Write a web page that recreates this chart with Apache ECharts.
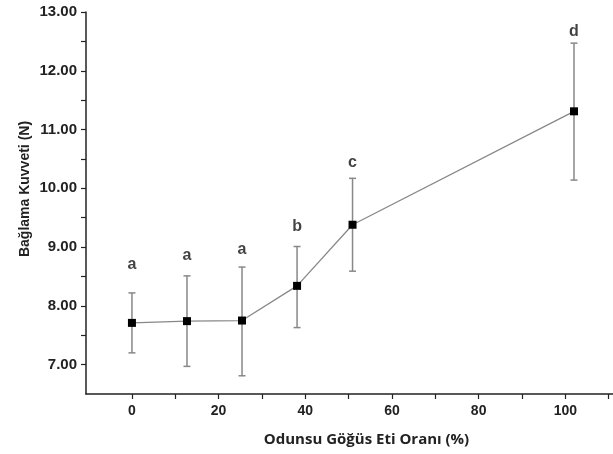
<!DOCTYPE html>
<html>
<head>
<meta charset="utf-8">
<script src="https://cdn.jsdelivr.net/npm/echarts@6/dist/echarts.min.js"></script>
<style>
  html, body { margin: 0; padding: 0; background: #fff; }
  #chart { width: 613px; height: 454px; }
</style>
</head>
<body>
<div id="chart"></div>
<script>
// odunsu göğüs eti oranı (%) as placed in the figure
const ratio = [0, 12.7, 25.4, 38.1, 50.9, 102]
const meanForce = [7.71, 7.74, 7.75, 8.34, 9.38, 11.31]
const upperForce = [8.22, 8.51, 8.66, 9.01, 10.17, 12.47]
const lowerForce = [7.20, 6.97, 6.81, 7.63, 8.59, 10.14]
const groupLetters = ['a', 'a', 'a', 'b', 'c', 'd']
const letterY = [8.71, 8.86, 8.95, 9.35, 10.43, 12.66]

const xLabelValues = [0, 20, 40, 60, 80, 100]
const xTickValues = [0, 10, 20, 30, 40, 50, 60, 70, 80, 90, 100, 110]
const yLabelValues = [7, 8, 9, 10, 11, 12, 13]
const yTickValues = [7, 7.5, 8, 8.5, 9, 9.5, 10, 10.5, 11, 11.5, 12, 12.5, 13]

const meanData = ratio.map((x, i) => [x, meanForce[i]])
const errData = ratio.map((x, i) => [x, lowerForce[i], upperForce[i]])
const letterData = ratio.map((x, i) => [x, letterY[i], groupLetters[i]])

const chart = echarts.init(document.getElementById('chart'))

const axisColor = '#222'
const font = 'Arial, "Liberation Sans", sans-serif'

chart.setOption({
  animation: false,
  backgroundColor: '#fff',
  grid: { left: 86, right: 0, top: 12, bottom: 60, outerBoundsMode: 'none' },
  xAxis: {
    type: 'value',
    min: -10.6,
    max: 111,
    name: 'Odunsu Göğüs Eti Oranı (%)',
    nameLocation: 'middle',
    nameGap: 38,
    nameMoveOverlap: false,
    nameTextStyle: {
      color: '#222', fontSize: 15, fontWeight: 'bold', fontFamily: 'Open Sans',
      padding: [0, 0, 0, 34]
    },
    axisLine: { onZero: false, lineStyle: { color: axisColor, width: 1.5 } },
    axisTick: { show: true, customValues: xTickValues, length: 5, lineStyle: { color: axisColor, width: 1.2 } },
    axisLabel: {
      customValues: xLabelValues, color: '#222', fontSize: 14, fontWeight: 'bold',
      fontFamily: font, margin: 10
    },
    splitLine: { show: false }
  },
  yAxis: {
    type: 'value',
    min: 6.5,
    max: 13,
    name: 'Bağlama Kuvveti (N)',
    nameLocation: 'middle',
    nameGap: 54,
    nameMoveOverlap: false,
    nameTextStyle: {
      color: '#222', fontSize: 14, fontWeight: 'bold', fontFamily: font,
      padding: [0, 0, 0, 28]
    },
    axisLine: { show: true, onZero: false, lineStyle: { color: axisColor, width: 1.5 } },
    axisTick: { show: true, customValues: yTickValues, length: 5, lineStyle: { color: axisColor, width: 1.2 } },
    axisLabel: {
      customValues: yLabelValues, color: '#222', fontSize: 15, fontWeight: 'bold',
      fontFamily: font, margin: 9,
      formatter: v => v.toFixed(2)
    },
    splitLine: { show: false }
  },
  series: [
    {
      type: 'custom',
      name: 'error',
      data: errData,
      z: 2,
      renderItem: function (params, api) {
        const x = api.value(0)
        const lo = api.coord([x, api.value(1)])
        const hi = api.coord([x, api.value(2)])
        const cap = 3.5
        const style = { stroke: '#888', lineWidth: 1.5 }
        return {
          type: 'group',
          children: [
            { type: 'line', shape: { x1: lo[0], y1: lo[1], x2: hi[0], y2: hi[1] }, style },
            { type: 'line', shape: { x1: lo[0] - cap, y1: lo[1], x2: lo[0] + cap, y2: lo[1] }, style },
            { type: 'line', shape: { x1: hi[0] - cap, y1: hi[1], x2: hi[0] + cap, y2: hi[1] }, style }
          ]
        }
      }
    },
    {
      type: 'line',
      name: 'mean',
      data: meanData,
      z: 3,
      symbol: 'rect',
      symbolSize: 8,
      itemStyle: { color: '#000' },
      lineStyle: { color: '#888', width: 1.3 }
    },
    {
      type: 'scatter',
      name: 'letters',
      data: letterData,
      symbolSize: 0,
      label: {
        show: true,
        position: 'inside',
        formatter: p => p.value[2],
        color: '#111',
        fontSize: 16,
        fontWeight: 'bold',
        fontFamily: font
      }
    }
  ]
})
</script>
</body>
</html>
